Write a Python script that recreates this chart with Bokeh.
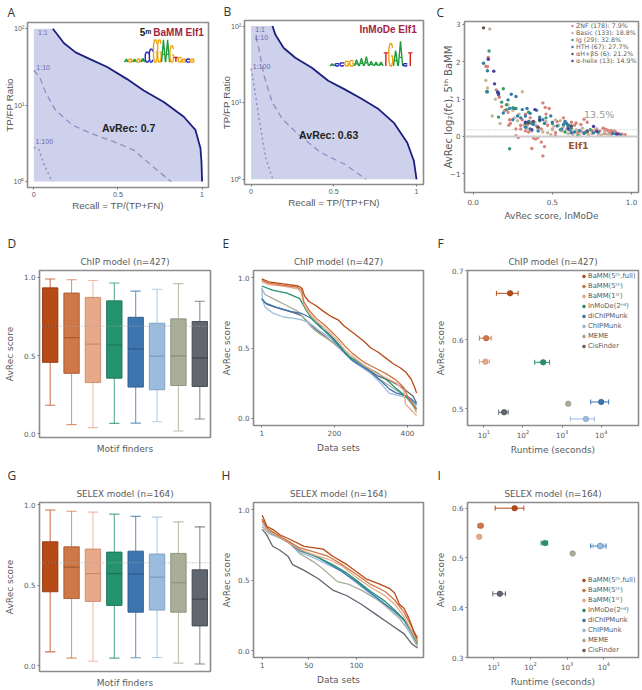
from bokeh.plotting import figure
from bokeh.layouts import column, row
from bokeh.models import (Label, Legend, LegendItem, Whisker, ColumnDataSource, FixedTicker, TeeHead, Span, LogTicker, Title)
from bokeh.embed import file_html
from bokeh.resources import INLINE

FRAME = "#8c8c8c"; TXT = "#5a5a5a"
METHODS = ["BaMM(5ᵗʰ,full)", "BaMM(5ᵗʰ)", "BaMM(1ˢᵗ)", "InMoDe(2ⁿᵈ)", "diChIPMunk", "ChIPMunk", "MEME", "CisFinder"]
COLORS = ["#B84A16", "#CF7746", "#E8A98A", "#25936D", "#3D75AE", "#9ABDDF", "#A8AE98", "#5F6670"]
EDGES = ["#8f3a12", "#a85a30", "#c98a6c", "#1b7355", "#2c5a8c", "#7c9dbf", "#888e78", "#3f454e"]

# ---- panel A
a_recall = [.113, .149, .178, .248, .337, .436, .554, .653, .772, .891, .96, .99, .996, 1]
a_ratio = [100, 79, 65, 49, 39.7, 31.5, 21.9, 15.5, 11, 7.05, 4.75, 2.76, 1.86, 1]
a10_recall = [0, .036, .069, .129, .228, .337, .495, .594, .713, .816]
a10_ratio = [28.6, 23, 14.8, 8.6, 5.5, 4.3, 3.2, 2.58, 1.53, 1]
a100_recall = [0, .03, .06, .109]
a100_ratio = [2.8, 2.63, 1.69, 1]
a_logo_letters = "AGAGACCGGAAGTGGCG"
a_logo_heights = [.04, .04, .04, .04, .05, .13, .17, .29, .29, .29, .29, .21, .06, .06, .04, .04, .04]

# ---- panel B
b_recall = [.129, .147, .197, .267, .367, .466, .566, .665, .765, .865, .944, .984, 1]
b_ratio = [100, 76.7, 51.7, 38.5, 28.6, 19.3, 14.9, 11.3, 8.4, 5.4, 3, 1.73, 1]
b10_recall = [.028, .048, .078, .127, .187, .287, .426, .566, .695]
b10_ratio = [73, 49, 22.4, 10.2, 6.2, 3.8, 2.2, 1.57, 1]
b100_recall = [0, .018, .048, .088, .131]
b100_ratio = [27.8, 16.7, 6.2, 1.9, 1]
b_logo_letters = "ACCGGAAAAAATGAACT"
b_logo_heights = [.03, .03, .04, .06, .07, .08, .10, .12, .06, .05, .05, .17, .29, .20, .32, .03, .17]

# ---- panel C
znf_x = [.08,.09,.095,.145,.165,.18,.20,.22,.23,.225,.235,.27,.27,.285,.30,.31,.33,.34,.35,.37,.38,.395,.41,.43,.45,.44,.44,.455,.48,.46,.42,.40,.43,.47,.50,.52,.52,.53,.57,.58,.62,.64,.65,.68,.70,.72,.68,.66,.72,.75,.78,.80,.82,.83,.84,.85,.87,.88,.89,.90,.92,.94,.96,.83,.86,.36,.33,.30]
znf_y = [1.88,1.87,2.12,1.25,1.05,.8,.7,.65,.45,.3,.35,.2,.02,-.03,.2,.45,.6,.3,.12,-.32,-.04,-.07,-.03,-.15,-.27,-.52,.9,.78,.75,.6,.5,.28,.2,.3,.2,.1,.02,.4,.5,.38,.38,.3,.36,.32,.46,.38,.14,.1,.1,.16,.2,.15,.22,.2,.18,.17,.16,.12,.15,.12,.08,.06,.05,.08,.1,.5,.15,.3]
basic_x = [.105,.08,.09,.14,.12,.17,.31,.22,.25,.26,.28,.29,.32,.34,.36,.39,.41,.44,.47,.49,.50,.51,.54,.55,.57,.59,.60,.62,.63,.65,.67,.69,.71,.73,.75,.77,.79,.81,.83,.85,.87,.89,.91,.93,.56,.52,.46,.37]
basic_y = [2.88,1.5,1.3,1,.55,.35,1.2,.85,.7,.5,.42,.6,.3,.22,.4,.38,.22,.12,.1,.05,.18,.28,.3,.42,.27,.2,.08,.14,.05,.18,.06,.22,.12,.04,.08,.18,.06,.04,.12,.06,.05,.08,.05,.04,.15,.44,.4,.15]
ig_x = [.10,.19,.09,.18,.16,.21,.25,.27,.21,.23,.33,.35,.42,.46,.50,.55,.58,.62,.66,.70,.74,.60]
ig_y = [2.29,1.28,1.2,.92,.52,.72,.77,.75,.85,-.33,.35,.65,.42,.5,.35,.18,.12,.22,.02,.08,.18,.3]
hth_x = [.065,.09,.085,.155,.16,.24,.27,.22,.19,.23,.26,.25,.28,.30,.31,.34,.33,.35,.36,.37,.38,.40,.42,.44,.45,.49,.50,.53,.56,.57,.58,.59,.60,.61,.60,.62,.64,.67,.70,.72,.76,.79,.88,.90,.93,.33,.36,.41]
hth_y = [1.96,1.76,1.2,1.2,1.12,1.13,1.07,.98,.63,.75,.75,.45,.55,.5,.72,.75,.55,.4,.62,.35,.32,.7,.52,.45,.35,.55,.38,.28,.2,.32,.4,.35,.3,.18,.26,.1,.12,.16,.1,.14,.1,.12,.08,.07,.05,.25,.2,.15]
ahbs_x = [.065,.41,.38,.62,.72,.35]
ahbs_y = [2.91,.25,.4,.28,.15,.36]
ahelix_x = [.095,.13,.135,.16,.155,.33,.39,.42,.37,.60,.76,.78,.91]
ahelix_y = [2.07,1.75,1.41,1.15,1.18,.38,.72,.45,.18,.2,.27,.14,.06]
c_labels = ["ZNF (178): 7.9%", "Basic (133): 18.8%", "Ig (29): 32.8%", "HTH (67): 27.7%", "αH+βS (6): 21.2%", "α-helix (13): 14.9%"]
c_colors = ["#D9817A", "#C9B49A", "#3A9B6B", "#2F7FA8", "#555555", "#4B3A9E"]

# ---- panels D, G: whisker low, q1, median, q3, whisker high
d_low = [.183, .059, .04, .067, .069, .078, .019, .095]
d_q1 = [.457, .387, .328, .356, .299, .282, .309, .303]
d_med = [.688, .615, .573, .568, .543, .497, .499, .486]
d_q3 = [.933, .90, .872, .85, .745, .707, .735, .718]
d_high = [.99, .985, .98, .964, .912, .924, .96, .848]
g_low = [.087, .048, .029, .048, .05, .052, .017, .012]
g_q1 = [.46, .418, .40, .375, .333, .346, .333, .248]
g_med = [.64, .613, .573, .573, .569, .551, .516, .414]
g_q3 = [.77, .739, .725, .706, .712, .694, .698, .596]
g_high = [.967, .96, .954, .942, .928, .923, .894, .863]

# ---- panel E: ranked scores
e_series = [
    ([1,20,60,100,105,112,118,130,150,170,190,210,225,250,280,300,320,340,360,380,395,410,420,425],
     [.99,.97,.955,.94,.935,.92,.87,.83,.80,.76,.725,.70,.66,.61,.55,.50,.47,.43,.39,.36,.33,.28,.22,.18]),
    ([1,20,60,100,110,116,130,150,170,190,210,230,250,280,310,340,370,390,400,410,425],
     [.98,.96,.945,.93,.91,.83,.77,.71,.67,.62,.57,.51,.46,.40,.36,.32,.27,.22,.16,.12,.06]),
    ([1,20,60,100,110,116,130,150,170,190,210,230,250,280,310,340,370,390,395,410,425],
     [.97,.95,.94,.92,.89,.81,.75,.69,.65,.60,.55,.48,.44,.38,.33,.29,.25,.20,.10,.06,.02]),
    ([1,30,70,105,120,140,160,180,200,220,240,260,290,320,345,370,395,410,425],
     [.94,.91,.89,.85,.78,.70,.65,.61,.56,.50,.44,.41,.36,.32,.27,.21,.16,.12,.07]),
    ([1,10,40,80,110,130,150,170,190,210,230,250,270,300,330,350,370,390,410,425],
     [.85,.82,.79,.76,.745,.72,.69,.63,.58,.52,.46,.41,.38,.33,.26,.21,.18,.165,.14,.10]),
    ([1,3,10,30,60,90,110,130,160,190,210,240,270,300,330,350,370,395,410,425],
     [.93,.84,.79,.75,.72,.71,.70,.68,.62,.57,.51,.43,.37,.32,.24,.18,.165,.15,.13,.09]),
    ([1,10,40,70,100,120,140,160,190,220,250,280,310,340,370,400,415,425],
     [.92,.88,.84,.80,.76,.70,.64,.60,.55,.49,.42,.36,.30,.25,.20,.14,.09,.04]),
    ([1,15,50,90,110,125,150,170,200,230,260,290,320,350,380,400,415,425],
     [.85,.81,.78,.75,.73,.69,.63,.59,.53,.46,.39,.35,.30,.27,.23,.19,.16,.11]),
]
# ---- panel H
h_series = [
    ([1,3,6,12,20,30,45,65,75,90,100,110,125,135,140,145,150,155,160,164],
     [.96,.93,.88,.86,.82,.79,.74,.72,.67,.61,.56,.51,.47,.44,.41,.33,.30,.23,.14,.09]),
    ([1,6,15,25,40,55,70,85,100,115,130,140,150,158,164],
     [.93,.87,.83,.79,.73,.70,.67,.61,.54,.47,.42,.36,.27,.17,.07]),
    ([1,6,15,25,40,55,70,85,100,115,130,140,150,158,164],
     [.92,.86,.82,.78,.72,.68,.65,.60,.52,.45,.39,.33,.24,.14,.06]),
    ([1,8,20,30,45,60,75,90,100,115,130,140,150,158,164],
     [.93,.85,.80,.77,.70,.66,.61,.55,.50,.42,.35,.29,.22,.13,.05]),
    ([1,8,20,30,40,55,70,85,100,115,130,140,150,158,164],
     [.92,.85,.80,.76,.71,.68,.62,.56,.49,.41,.33,.28,.22,.14,.06]),
    ([1,8,20,30,40,55,70,85,100,115,130,140,150,158,164],
     [.90,.84,.80,.76,.70,.66,.61,.56,.48,.40,.33,.27,.21,.11,.05]),
    ([1,8,20,30,40,55,65,80,92,105,120,130,145,155,164],
     [.88,.83,.80,.76,.69,.63,.58,.49,.47,.43,.37,.32,.23,.14,.03]),
    ([1,5,12,20,28,33,45,60,75,90,105,120,135,150,158,164],
     [.86,.83,.74,.71,.67,.61,.57,.51,.43,.39,.33,.26,.19,.12,.05,.02]),
]
# ---- panels F, I
f_time = [47, 11.5, 11, 329, 10000, 4070, 1435, 33]
f_lo = [21, 7.7, 7.7, 200, 5400, 1630, 1435, 24]
f_hi = [75, 15.4, 14, 480, 15500, 6700, 1435, 42]
f_score = [.667, .602, .568, .567, .5096, .485, .507, .4947]
i_time = [37, 4.4, 4, 246, 7950, 7950, 1412, 14.6]
i_lo = [10.9, 3.7, 4, 195, 4365, 5100, 1412, 9.4]
i_hi = [66, 5, 4, 295, 11500, 10000, 1412, 20.8]
i_score = [.60, .5646, .5425, .53, .524, .524, .509, .428]

LOGO_COLORS = {"A": "#1F9A3C", "C": "#2323C4", "G": "#F0A30F", "T": "#D32020"}
_C = [(.95, .82), (.7, 1), (.3, 1), (.05, .75), (.05, .25), (.3, 0), (.7, 0), (.95, .18)]
STROKES = {"A": [[(0, 0), (.5, 1), (1, 0)], [(.2, .35), (.8, .35)]],
           "C": [_C],
           "G": [_C, [(.95, .18), (.95, .45), (.55, .45)]],
           "T": [[(0, 1), (1, 1)], [(.5, 1), (.5, 0)]]}


def base(w, h, bl, br, bt, bb, font="DejaVu Sans", **kw):
    p = figure(width=w, height=h, min_border_left=bl, min_border_right=br, min_border_top=bt,
               min_border_bottom=bb, output_backend="svg", toolbar_location=None,
               background_fill_color="white", border_fill_color="white", frame_align=False, **kw)
    p.title = None
    p.grid.visible = False
    p.outline_line_color = FRAME
    p.outline_line_width = 1.6
    for ax in (p.xaxis[0], p.yaxis[0]):
        ax.axis_line_color = None
        ax.minor_tick_line_color = None
        ax.major_tick_line_color = "#777777"
        ax.major_tick_in = 0
        ax.major_tick_out = 2
        ax.major_label_text_color = TXT
        ax.major_label_text_font = font
        ax.major_label_text_font_size = "7.2px"
        ax.major_label_standoff = 2
        ax.axis_label_text_color = TXT
        ax.axis_label_text_font = font
        ax.axis_label_text_font_style = "normal"
        ax.axis_label_text_font_size = "9px"
        ax.axis_label_standoff = 3
    return p


def letter(p, s, x, standoff=0, line_height=.3):
    p.add_layout(Title(text=s, align="left", offset=x - p.min_border_left, text_font="Open Sans", text_font_size="12px",
                       text_font_style="normal", text_color="#333333", standoff=standoff,
                       text_line_height=line_height), "above")


def set_title(p, s):
    p.add_layout(Title(text=s, align="center", text_font="DejaVu Sans", text_font_size="8.8px", text_font_style="normal",
                       text_color=TXT, standoff=7), "above")


def logo(p, letters, heights, x0, dx, base_log, width):
    xs, ys, cs = [], [], []
    for i, (ch, h) in enumerate(zip(letters, heights)):
        for stroke in STROKES[ch]:
            xs.append([x0 + i * dx + (u - .5) * width for u, _ in stroke])
            ys.append([10 ** (base_log + v * h) for _, v in stroke])
            cs.append(LOGO_COLORS[ch])
    p.multi_line(xs, ys, line_color=cs, line_width=1.4)


def roc(p, rec, rat, r10, q10, r100, q100):
    p.patch([0, 0] + rec, [1, 100] + rat, fill_color="#CDD1EB", line_color=None)
    p.line(r10, q10, line_color="#8F8FC4", line_width=1.3, line_dash="6 4")
    p.line(r100, q100, line_color="#8F8FC4", line_width=1.5, line_dash="2 3")
    p.line(rec, rat, line_color="#1B1F7E", line_width=1.8)
    p.xaxis.ticker = FixedTicker(ticks=[0, .5, 1])
    p.xaxis.major_label_overrides = {0: "0", 0.5: "0.5", 1: "1"}
    p.yaxis.ticker = FixedTicker(ticks=[1, 10, 100])
    p.yaxis.major_label_overrides = {1: "10⁰", 10: "10¹", 100: "10²"}
    p.xaxis.axis_label = "Recall = TP/(TP+FN)"
    p.yaxis.axis_label = "TP/FP Ratio"
    p.yaxis.axis_label_standoff = -4
    p.yaxis.major_label_standoff = 1
    p.xaxis.axis_label_standoff = 0
    for ax in (p.xaxis[0], p.yaxis[0]):
        ax.axis_label_text_font_size = "9.8px"


def dtext(p, x, y, s, color, size, bold=False, font="Liberation Sans", align="left"):
    p.add_layout(Label(x=x, y=y, text=s, text_color=color, text_font=font, text_font_size=size,
                       text_font_style="bold" if bold else "normal", text_baseline="middle", text_align=align))


# A
pa = base(217, 232, 27, 9, 19, 45, font="Liberation Sans", x_range=(-.0376, 1.038), y_range=(.837, 120.5), y_axis_type="log")
roc(pa, a_recall, a_ratio, a10_recall, a10_ratio, a100_recall, a100_ratio)
logo(pa, a_logo_letters, a_logo_heights, .55, .0245, 1.563, .023)
dtext(pa, .025, 89, "1:1", "#6A6AB0", "7px")
dtext(pa, .015, 31, "1:10", "#6A6AB0", "7px")
dtext(pa, .01, 3.3, "1:100", "#6A6AB0", "7px")
dtext(pa, .405, 5, "AvRec: 0.7", "#222222", "10.5px", True)
dtext(pa, .63, 89, "5ᵐ", "#222222", "10px", True)
dtext(pa, .71, 89, "BaMM Elf1", "#A3243F", "10px", True)
letter(pa, "A", 7, 3)

# B
pb = base(214, 232, 25, 8, 17, 48, font="Liberation Sans", x_range=(-.04, 1.042), y_range=(.855, 118), y_axis_type="log")
roc(pb, b_recall, b_ratio, b10_recall, b10_ratio, b100_recall, b100_ratio)
logo(pb, b_logo_letters, b_logo_heights, .49, .0295, 1.479, .026)
dtext(pb, .025, 91, "1:1", "#6A6AB0", "7px")
dtext(pb, .02, 71, "1:10", "#6A6AB0", "7px")
dtext(pb, .01, 30, "1:100", "#6A6AB0", "7px")
dtext(pb, .29, 3.75, "AvRec: 0.63", "#222222", "10.5px", True)
dtext(pb, .655, 89, "InMoDe Elf1", "#A3243F", "10px", True)
letter(pb, "B", 4, 1)

# C
pc = base(211, 232, 33, 4, 18, 40, x_range=(-.055, 1.044), y_range=(-1.5, 3.08))
pc.add_layout(Span(location=0, dimension="width", line_color="#CCCCCC", line_width=1.8))
pc.add_layout(Span(location=.18, dimension="width", line_color="#BBBBBB", line_width=1, line_dash="1 2"))
items = []
for (xs, ys), col, lab in zip([(znf_x, znf_y), (basic_x, basic_y), (ig_x, ig_y), (hth_x, hth_y), (ahbs_x, ahbs_y), (ahelix_x, ahelix_y)], c_colors, c_labels):
    r = pc.scatter(xs, ys, size=3.4, color=col, line_color=None)
    items.append(LegendItem(label=lab, renderers=[r]))
leg = Legend(items=items, location=(105, 128), background_fill_alpha=0, border_line_color=None, padding=0, margin=0,
             spacing=0, label_height=7, label_standoff=1, glyph_width=6, glyph_height=7,
             label_text_font="DejaVu Sans", label_text_font_size="6.3px", label_text_color=TXT, label_text_line_height=1)
pc.add_layout(leg)
pc.xaxis.ticker = FixedTicker(ticks=[0, .5, 1])
pc.xaxis.major_label_overrides = {0: "0.0", 0.5: "0.5", 1: "1.0"}
pc.yaxis.ticker = FixedTicker(ticks=[-1, 0, 1, 2, 3])
pc.xaxis.axis_label = "AvRec score, InMoDe"
pc.yaxis.axis_label = "AvRec log₂(fc), 5ᵗʰ BaMM"
pc.xaxis.major_label_standoff = 4
pc.yaxis.axis_label_standoff = -7
pc.yaxis.axis_label_text_font_size = "10px"
dtext(pc, .70, .6, "13.5%", "#999999", "9.5px", font="DejaVu Sans")
dtext(pc, .60, -.23, "Elf1", "#A0522D", "9.5px", True, font="DejaVu Sans")
letter(pc, "C", 5, 2)


def boxes(w, h, bl, br, bt, bb, yr, low, q1, med, q3, high, title, ref):
    p = base(w, h, bl, br, bt, bb, x_range=(-.5, 7.5), y_range=yr)
    idx = list(range(8))
    p.segment(idx, low, idx, q1, line_color=COLORS, line_width=1.1, line_alpha=.75)
    p.segment(idx, q3, idx, high, line_color=COLORS, line_width=1.1, line_alpha=.75)
    p.segment([i - .24 for i in idx], low, [i + .24 for i in idx], low, line_color=COLORS, line_width=1.1, line_alpha=.75)
    p.segment([i - .24 for i in idx], high, [i + .24 for i in idx], high, line_color=COLORS, line_width=1.1, line_alpha=.75)
    p.vbar(idx, .72, q1, q3, fill_color=COLORS, line_color=EDGES, line_width=.9)
    p.segment([i - .36 for i in idx], med, [i + .36 for i in idx], med, line_color=EDGES, line_width=1.2)
    p.add_layout(Span(location=ref, dimension="width", line_color="#AAAAAA", line_width=1, line_dash="1 2"))
    p.xaxis.ticker = FixedTicker(ticks=[])
    p.yaxis.ticker = FixedTicker(ticks=[0, .5, 1])
    p.yaxis.major_label_overrides = {0: "0.0", 0.5: "0.5", 1: "1.0"}
    p.xaxis.axis_label = "Motif finders"
    p.yaxis.axis_label = "AvRec score"
    p.xaxis.axis_label_standoff = 6
    p.yaxis.axis_label_standoff = 6
    set_title(p, title)
    return p


def ranks(w, h, bl, br, bt, bb, xr, yr, series, xt, title):
    p = base(w, h, bl, br, bt, bb, x_range=xr, y_range=yr)
    for (xs, ys), col in reversed(list(zip(series, COLORS))):
        p.line(xs, ys, line_color=col, line_width=1.3)
    p.xaxis.ticker = FixedTicker(ticks=xt)
    p.yaxis.ticker = FixedTicker(ticks=[0, .5, 1])
    p.yaxis.major_label_overrides = {0: "0.0", 0.5: "0.5", 1: "1.0"}
    p.xaxis.axis_label = "Data sets"
    p.yaxis.axis_label = "AvRec score"
    p.xaxis.axis_label_standoff = 4
    p.yaxis.axis_label_standoff = 3
    set_title(p, title)
    return p


def runtime(w, h, bl, br, bt, bb, xr, yr, yt, t, lo, hi, s, title, loc):
    p = base(w, h, bl, br, bt, bb, x_range=xr, y_range=yr, x_axis_type="log")
    items = []
    for i in range(8):
        src = ColumnDataSource(dict(y=[s[i]], lo=[lo[i]], hi=[hi[i]]))
        if hi[i] > lo[i]:
            p.add_layout(Whisker(source=src, base="y", lower="lo", upper="hi", dimension="width",
                                 line_color=COLORS[i], line_width=1,
                                 lower_head=TeeHead(size=5, line_color=COLORS[i], line_width=1),
                                 upper_head=TeeHead(size=5, line_color=COLORS[i], line_width=1)))
        r = p.scatter([t[i]], [s[i]], size=5.5, fill_color=COLORS[i], line_color=EDGES[i], line_width=.6)
        items.append(LegendItem(label=METHODS[i], renderers=[r]))
    leg = Legend(items=items, location=loc, background_fill_alpha=0, border_line_color=None, padding=0, margin=0,
                 spacing=0, label_height=10, label_standoff=1, glyph_width=7, glyph_height=10,
                 label_text_font="DejaVu Sans", label_text_font_size="6.8px", label_text_color=TXT, label_text_line_height=1.2)
    p.add_layout(leg)
    p.xaxis.ticker = LogTicker(num_minor_ticks=0, mantissas=[1])
    p.yaxis.ticker = FixedTicker(ticks=yt)
    p.yaxis.major_label_overrides = {v: f"{v:.1f}" for v in yt}
    p.xaxis.axis_label = "Runtime (seconds)"
    p.yaxis.axis_label = "AvRec score"
    p.xaxis.axis_label_standoff = 4
    p.yaxis.axis_label_standoff = 3
    set_title(p, title)
    return p


pd_ = boxes(217, 230, 39, 7, 36, 25, (-.023, 1.044), d_low, d_q1, d_med, d_q3, d_high, "ChIP model (n=427)", .688)
letter(pd_, "D", 7)
pe = ranks(214, 230, 36, 8, 37, 37, (-21.7, 444), (-.05, 1.05), e_series, [1, 200, 400], "ChIP model (n=427)")
letter(pe, "E", 5)
pf = runtime(211, 230, 36, 4, 37, 37, (3.83, 89900), (.4755, .7), [.5, .6, .7], f_time, f_lo, f_hi, f_score, "ChIP model (n=427)", (113, 74))
letter(pf, "F", 6)
pg = boxes(217, 228, 39, 7, 40, 19, (-.035, 1.014), g_low, g_q1, g_med, g_q3, g_high, "SELEX model (n=164)", .64)
letter(pg, "G", 7)
ph = ranks(214, 228, 36, 8, 40, 33, (-8.1, 170.3), (-.047, 1.05), h_series, [1, 50, 100], "SELEX model (n=164)")
letter(ph, "H", 4)
pi_ = runtime(211, 228, 36, 4, 40, 33, (1.92, 88100), (.3, .6114), [.3, .4, .5, .6], i_time, i_lo, i_hi, i_score, "SELEX model (n=164)", (113, 2))
letter(pi_, "I", 6)

root = column(row(pa, pb, pc), row(pd_, pe, pf), row(pg, ph, pi_))
root.styles = {"position": "absolute", "left": "0px", "top": "0px"}
open("out.html", "w").write(file_html(root, INLINE))
